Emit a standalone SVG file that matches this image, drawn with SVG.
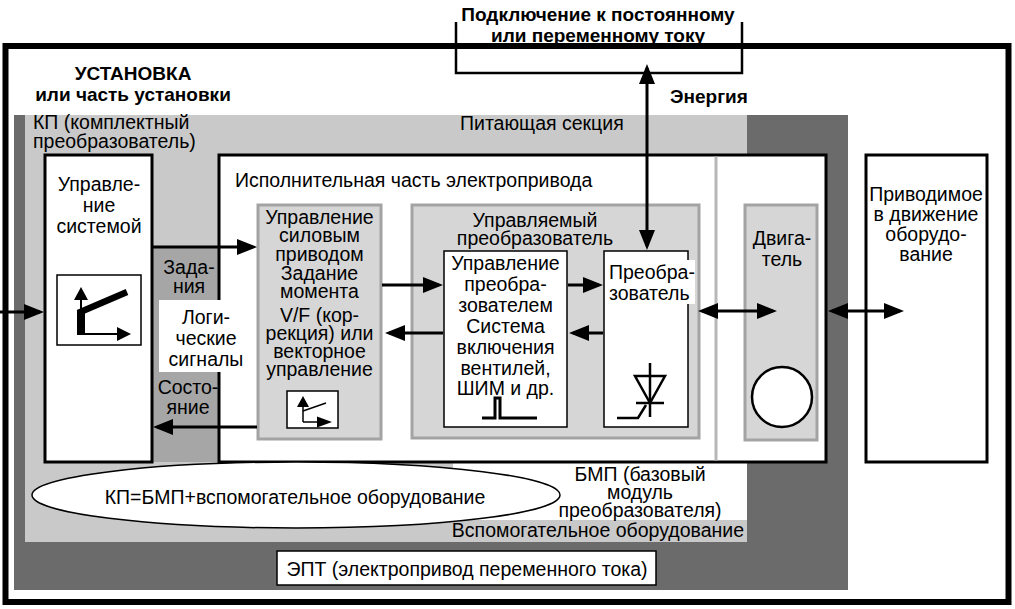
<svg xmlns="http://www.w3.org/2000/svg" width="1015" height="609" viewBox="0 0 1015 609">
<defs>
<style>
.t{font-family:"Liberation Sans",Arial,sans-serif;font-size:19.5px;fill:#000}
.b{font-weight:bold;font-size:19px}
.m{text-anchor:middle}
.e{text-anchor:end}
.box{fill:#fff;stroke:#000;stroke-width:3}
.gbox{fill:#d6d6d6;stroke:#a3a3a3;stroke-width:3}
.ibox{fill:#fff;stroke:#000;stroke-width:1.5}
.c{stroke:#000;stroke-width:3;fill:none}
.ln{stroke:#000;fill:none}
</style>
<marker id="ah" viewBox="0 0 20 16" refX="16" refY="8" markerWidth="20" markerHeight="16" markerUnits="userSpaceOnUse" orient="auto-start-reverse"><path d="M0,0 L20,8 L0,16 z" fill="#000"/></marker>
</defs>
<rect x="0" y="0" width="1015" height="609" fill="#fff"/>

<g id="ustanovka">
<rect x="5.5" y="46" width="1003" height="556" fill="#fff" stroke="#000" stroke-width="6"/>
<text class="t b m" x="133" y="80">УСТАНОВКА</text>
<text class="t b m" x="133" y="101">или часть установки</text>
</g>

<g id="ept">
<rect x="14" y="115" width="834" height="475" fill="#6b6b6b"/>
<rect x="277" y="551" width="379" height="34" fill="#fff" stroke="#000" stroke-width="1.5"/>
<text class="t m" x="467" y="576">ЭПТ (электропривод переменного тока)</text>
</g>

<g id="kp">
<rect x="25" y="115" width="722" height="427" fill="#c9c9c9"/>
<text class="t" x="33" y="129">КП (комплектный</text>
<text class="t" x="33" y="148">преобразователь)</text>
<text class="t" x="460" y="130">Питающая секция</text>
<text class="t e" x="744" y="537">Вспомогательное оборудование</text>
</g>

<g id="bmp">
<rect x="453" y="462" width="294" height="58" fill="#fff"/>
<text class="t m" x="640" y="481">БМП (базовый</text>
<text class="t m" x="640" y="499">модуль</text>
<text class="t m" x="640" y="517">преобразователя)</text>
</g>

<g id="signal-zone">
<rect x="152" y="248" width="67" height="214" fill="#a6a6a6"/>
</g>

<g id="supply">
<polyline class="ln" stroke-width="2.5" points="456,22 456,73 742,73 742,22"/>
<text class="t b m" x="598" y="21">Подключение к постоянному</text>
<text class="t b m" x="598" y="42">или переменному току</text>
</g>

<g id="system-control">
<rect class="box" x="45" y="155" width="107" height="307"/>
<text class="t m" x="99" y="191">Управле-</text>
<text class="t m" x="99" y="212">ние</text>
<text class="t m" x="99" y="233">системой</text>
<rect class="ibox" x="57" y="275" width="84" height="70"/>
<line class="ln" stroke-width="2" x1="81" y1="299" x2="81" y2="334"/>
<polygon points="74,300 81,287 88,300" fill="#000"/>
<line class="ln" stroke-width="2" x1="81" y1="334" x2="118" y2="334"/>
<polygon points="117,327 131,334 117,341" fill="#000"/>
<line class="ln" stroke-width="8" x1="81" y1="310" x2="81" y2="335"/>
<line class="ln" stroke-width="6.5" x1="78" y1="313" x2="127" y2="292"/>
</g>

<g id="exec">
<rect class="box" x="219" y="155" width="607" height="307"/>
<line x1="716" y1="156.5" x2="716" y2="460.5" stroke="#b8b8b8" stroke-width="3"/>
<text class="t" x="235" y="187">Исполнительная часть электропривода</text>
</g>

<g id="signals">
<rect x="159" y="300" width="98" height="72" fill="#fff"/>
<text class="t m" x="206" y="324">Логи-</text>
<text class="t m" x="206" y="345">ческие</text>
<text class="t m" x="206" y="366">сигналы</text>
</g>

<g id="drive-control">
<rect class="gbox" x="258" y="205" width="123" height="234"/>
<text class="t m" x="319.5" y="224">Управление</text>
<text class="t m" x="319.5" y="242">силовым</text>
<text class="t m" x="319.5" y="261">приводом</text>
<text class="t m" x="319.5" y="280">Задание</text>
<text class="t m" x="319.5" y="298">момента</text>
<text class="t m" x="319.5" y="322">V/F (кор-</text>
<text class="t m" x="319.5" y="340">рекция) или</text>
<text class="t m" x="319.5" y="358">векторное</text>
<text class="t m" x="319.5" y="376">управление</text>
<rect class="ibox" x="287" y="391" width="51" height="37"/>
<polygon points="297,407 303,396 309,407" fill="#000"/>
<line class="ln" stroke-width="1.5" x1="303" y1="406" x2="303" y2="422"/>
<line class="ln" stroke-width="1.5" x1="303" y1="422" x2="318" y2="422"/>
<polygon points="317,416.5 332,422 317,427.5" fill="#000"/>
<line class="ln" stroke-width="1.5" x1="303" y1="411" x2="326" y2="403"/>
</g>

<g id="controlled-converter">
<rect class="gbox" x="412" y="205" width="287" height="233"/>
<text class="t m" x="535" y="227">Управляемый</text>
<text class="t m" x="535" y="245">преобразователь</text>
</g>

<g id="converter-control">
<rect class="ibox" x="444" y="251" width="123" height="176"/>
<text class="t m" x="505.5" y="270">Управление</text>
<text class="t m" x="505.5" y="291">преобра-</text>
<text class="t m" x="505.5" y="312">зователем</text>
<text class="t m" x="505.5" y="333">Система</text>
<text class="t m" x="505.5" y="354">включения</text>
<text class="t m" x="505.5" y="375">вентилей,</text>
<text class="t m" x="505.5" y="395">ШИМ и др.</text>
<polyline class="ln" stroke-width="3" points="482,418 495,418 495,398 500,398 500,418 537,418"/>
</g>

<g id="converter">
<rect class="ibox" x="604" y="251" width="84" height="176"/>
<rect x="606" y="260" width="89" height="44" fill="#fff"/>
<text class="t" x="609" y="279">Преобра-</text>
<text class="t" x="609" y="300">зователь</text>
<line class="ln" stroke-width="2.5" x1="650" y1="363" x2="650" y2="417"/>
<polygon class="ln" stroke-width="2.5" points="635,376 665,376 650,403"/>
<line class="ln" stroke-width="2.5" x1="636" y1="403" x2="664" y2="403"/>
<polyline class="ln" stroke-width="2.5" points="617,418 638,418 646,405"/>
</g>

<g id="motor">
<rect class="gbox" x="745" y="205" width="72" height="235"/>
<text class="t m" x="782" y="245">Двига-</text>
<text class="t m" x="782" y="266">тель</text>
<circle cx="782" cy="397" r="30" fill="#fff" stroke="#000" stroke-width="2.5"/>
</g>

<g id="load">
<rect class="box" x="866" y="155" width="121" height="307"/>
<text class="t m" x="926" y="201">Приводимое</text>
<text class="t m" x="926" y="221">в движение</text>
<text class="t m" x="926" y="241">оборудо-</text>
<text class="t m" x="926" y="261">вание</text>
</g>

<g id="formula">
<ellipse cx="296" cy="495" rx="264" ry="33" fill="#fff" stroke="#000" stroke-width="1.5"/>
<text class="t m" x="295" y="504">КП=БМП+вспомогательное оборудование</text>
</g>

<g id="connectors">
<line class="c" x1="0" y1="312" x2="40" y2="312" marker-end="url(#ah)"/>
<line class="c" x1="153" y1="247" x2="253" y2="247" marker-end="url(#ah)"/>
<line class="c" x1="257" y1="427" x2="157" y2="427" marker-end="url(#ah)"/>
<line class="c" x1="382" y1="285" x2="439" y2="285" marker-end="url(#ah)"/>
<line class="c" x1="443" y1="333" x2="389" y2="333" marker-end="url(#ah)"/>
<line class="c" x1="568" y1="285" x2="599" y2="285" marker-end="url(#ah)"/>
<line class="c" x1="603" y1="333" x2="573" y2="333" marker-end="url(#ah)"/>
<line class="c" x1="702" y1="311" x2="773" y2="311" marker-start="url(#ah)" marker-end="url(#ah)"/>
<line class="c" x1="832" y1="311" x2="900" y2="311" marker-start="url(#ah)" marker-end="url(#ah)"/>
<line class="c" x1="647" y1="68" x2="647" y2="246" marker-start="url(#ah)" marker-end="url(#ah)"/>
<text class="t b" x="670" y="103">Энергия</text>
<text class="t m" x="189" y="274">Зада-</text>
<text class="t m" x="189" y="293">ния</text>
<text class="t m" x="188" y="394">Состо-</text>
<text class="t m" x="188" y="414">яние</text>
</g>
</svg>
